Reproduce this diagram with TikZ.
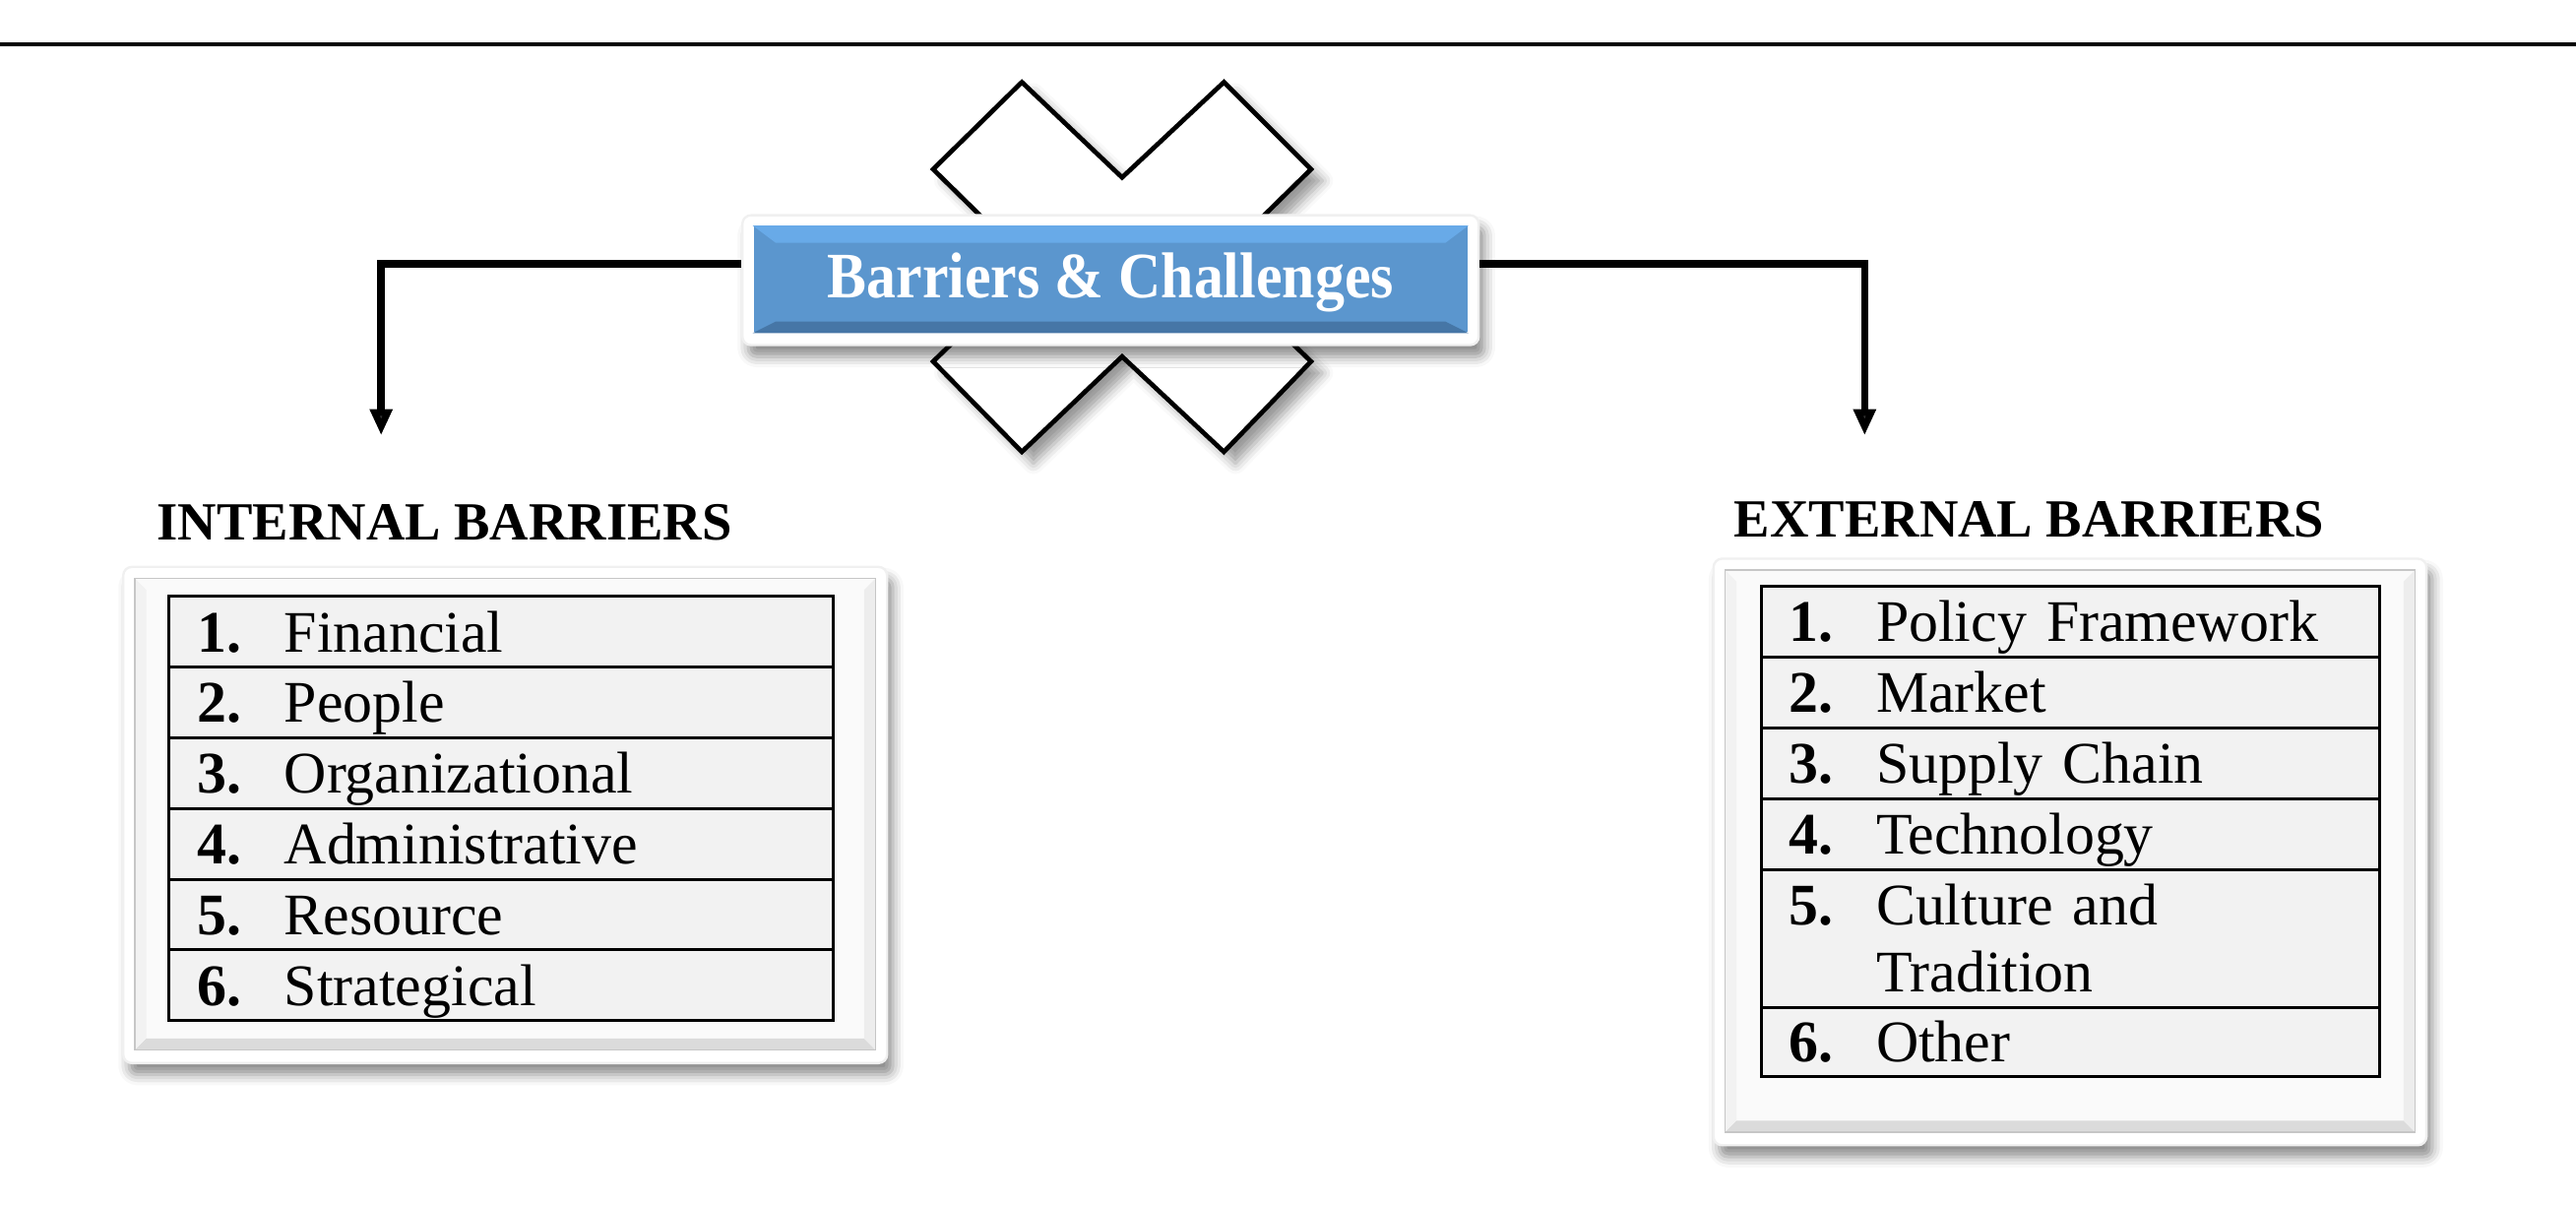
\documentclass[tikz,border=0pt]{standalone}
\usepackage{fontspec}
\setmainfont{Liberation Serif}
\usetikzlibrary{positioning,arrows.meta,shadows.blur}

\definecolor{boxblue}{RGB}{91,150,206}
\definecolor{boxblueup}{RGB}{104,170,232}
\definecolor{boxbluedn}{RGB}{70,118,166}
\definecolor{cellgray}{RGB}{242,242,242}

% one numbered entry of a barrier list
\newcommand{\rowstrut}{\rule[-2.3pt]{0pt}{11.5pt}}
\newcommand{\barrow}[2]{\makebox[0.53cm][l]{\rowstrut\textbf{#1.}}#2}
% white frame with a bevelled face
\newcommand{\bevelframe}[4]{
    \draw[frame] (#1,#2) rectangle (#3,#4);
    \fill[gray!4] (#1+7,#2+7) rectangle (#3-7,#4-8);
    \fill[gray!28] (#1+7,#4-8) -- (#3-7,#4-8) -- (#3-14,#4-15) -- (#1+14,#4-15) -- cycle;
    \fill[gray!14] (#3-7,#2+7) -- (#3-7,#4-8) -- (#3-14,#4-15) -- (#3-14,#2+14) -- cycle;
    \fill[gray!10] (#1+7,#2+7) -- (#1+7,#4-8) -- (#1+14,#4-15) -- (#1+14,#2+14) -- cycle;
    \draw[gray!45, line width=0.3pt] (#1+7,#2+7) rectangle (#3-7,#4-8);
}

\tikzset{
    frame/.style={draw=gray!12, fill=white, rounded corners=1.5pt,
        blur shadow={shadow xshift=1pt, shadow yshift=-2pt, shadow opacity=45}},
    cell/.style={draw=black, line width=0.5pt, fill=cellgray, outer sep=0pt,
        minimum width=4.04cm, minimum height=0.43cm, text width=3.7cm,
        inner xsep=0.17cm, inner ysep=0pt, align=left,
        font=\fontsize{10.2}{11.5}\selectfont},
    rcell/.style={cell, minimum width=3.76cm, text width=3.42cm},
    heading/.style={font=\fontsize{9.3}{11}\selectfont\bfseries, inner sep=0pt, anchor=west},
    titlebox/.style={fill=boxblue, text=white, minimum width=4.34cm, minimum height=0.64cm,
        inner sep=0pt, font=\fontsize{10.2}{12}\selectfont\bfseries},
    link/.style={line width=1.3pt, -{Triangle[length=0.16cm, width=0.13cm]}},
}

\begin{document}
\begin{tikzpicture}[x=0.01cm, y=-0.01cm]
    \useasboundingbox (0,0) rectangle (1568,733);
    \draw[line width=0.6pt] (0,27) -- (1568,27);

    % crossed bars behind the title
    \draw[line width=0.8pt, fill=white, blur shadow={shadow xshift=2pt, shadow yshift=-2pt, shadow opacity=40}]
        (568,103) -- (622,50) -- (683,108) -- (745,50) -- (798,103) -- (738,162)
        -- (798,220) -- (745,275) -- (683,217) -- (622,275) -- (568,220) -- (628,162) -- cycle;

    % title
    \node[frame, minimum width=4.48cm, minimum height=0.79cm, inner sep=0pt] (bcframe) at (676,170.5) {};
    \node[titlebox] (bc) at (676,170) {};
    \fill[boxblueup] (bc.north west) -- (bc.north east) -- ([xshift=-4pt,yshift=-3pt]bc.north east)
        -- ([xshift=4pt,yshift=-3pt]bc.north west) -- cycle;
    \fill[boxbluedn] (bc.south west) -- (bc.south east) -- ([xshift=-4pt,yshift=2pt]bc.south east)
        -- ([xshift=4pt,yshift=2pt]bc.south west) -- cycle;
    \node[titlebox, fill=none] (bctext) at (676,172) {\scalebox{1}[1.1]{Barriers \& Challenges}};

    \coordinate (intEnd) at (232,265);
    \coordinate (extEnd) at (1135,265);
    \draw[link] ([yshift=0.1cm]bcframe.west) -| (intEnd);
    \draw[link] ([yshift=0.1cm]bcframe.east) -| (extEnd);

    % internal barriers
    \node[heading] (intHead) at (95,318) {INTERNAL BARRIERS};
    \bevelframe{75}{345}{540}{647}
    \node[cell, anchor=north west] (int1) at (103,363) {\barrow{1}{Financial}};
    \node[cell, below=0pt of int1] (int2) {\barrow{2}{People}};
    \node[cell, below=0pt of int2] (int3) {\barrow{3}{Organizational}};
    \node[cell, below=0pt of int3] (int4) {\barrow{4}{Administrative}};
    \node[cell, below=0pt of int4] (int5) {\barrow{5}{Resource}};
    \node[cell, below=0pt of int5] (int6) {\barrow{6}{Strategical}};

    % external barriers
    \node[heading] (extHead) at (1055,316) {EXTERNAL BARRIERS};
    \bevelframe{1043}{340}{1477}{697}
    \node[rcell, anchor=north west] (ext1) at (1072,357) {\barrow{1}{Policy Framework}};
    \node[rcell, below=0pt of ext1] (ext2) {\barrow{2}{Market}};
    \node[rcell, below=0pt of ext2] (ext3) {\barrow{3}{Supply Chain}};
    \node[rcell, below=0pt of ext3] (ext4) {\barrow{4}{Technology}};
    \node[rcell, below=0pt of ext4, minimum height=0.84cm] (ext5) {\barrow{5}{Culture and}\\\hspace*{0.53cm}\rowstrut Tradition};
    \node[rcell, below=0pt of ext5, minimum height=0.42cm] (ext6) {\barrow{6}{Other}};
\end{tikzpicture}
\end{document}
